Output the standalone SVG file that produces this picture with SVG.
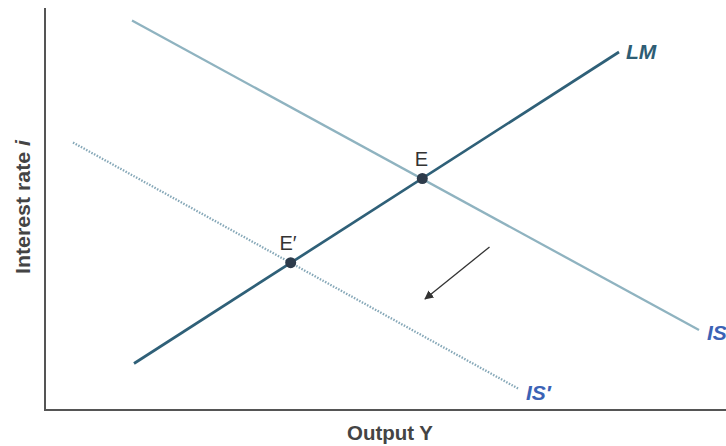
<svg xmlns="http://www.w3.org/2000/svg" width="726" height="446" viewBox="0 0 726 446">
<style>
.axis{stroke:#555;stroke-width:2;fill:none}
.is{stroke:#8fb3c0;stroke-width:2.3;fill:none}
.isp{stroke:#86a8b8;stroke-width:2.3;stroke-dasharray:1.5 1.5;fill:none}
.lm{stroke:#2f6078;stroke-width:2.7;fill:none}
.arrow{stroke:#333;stroke-width:1.3;fill:none}
.lbl{font-family:"Liberation Sans",Arial,sans-serif;font-weight:bold;font-style:italic;font-size:21px}
.pt{font-family:"Liberation Sans",Arial,sans-serif;font-size:20px;fill:#333}
.ax{font-family:"Liberation Sans",Arial,sans-serif;font-weight:bold;font-size:21px;fill:#444}
.dot{fill:#2d3b4b}
</style>
<defs>
<marker id="ah" viewBox="0 0 10 10" refX="9" refY="5" markerWidth="9" markerHeight="9" markerUnits="userSpaceOnUse" orient="auto">
<path d="M0,0 L10,5 L0,10 Z" fill="#333"/>
</marker>
</defs>
<rect width="726" height="446" fill="#ffffff"/>
<g id="axes">
<polyline class="axis" points="45,8 45,410 726,410"/>
<text class="ax" x="390" y="440" text-anchor="middle" textLength="86" lengthAdjust="spacingAndGlyphs">Output Y</text>
<text class="ax" transform="translate(30,207) rotate(-90)" text-anchor="middle" textLength="134" lengthAdjust="spacingAndGlyphs">Interest rate <tspan font-style="italic">i</tspan></text>
</g>
<g id="connectors">
<line id="IS-line" class="is" x1="132" y1="20.5" x2="699" y2="330"/>
<line id="ISp-line" class="isp" x1="73" y1="142.5" x2="518" y2="388.5"/>
<line id="LM-line" class="lm" x1="134" y1="363.5" x2="619" y2="52"/>
<line id="shift-arrow" class="arrow" x1="489.5" y1="247" x2="425" y2="299" marker-end="url(#ah)"/>
</g>
<g id="IS-label"><text class="lbl" x="707" y="340" fill="#3b62b5">IS</text></g>
<g id="ISp-label"><text class="lbl" x="526" y="400" fill="#3b62b5">IS′</text></g>
<g id="LM-label"><text class="lbl" x="626" y="59" fill="#2e5d74">LM</text></g>
<g id="E"><circle class="dot" cx="422.3" cy="178.5" r="5.5"/><text class="pt" x="421.5" y="166" text-anchor="middle">E</text></g>
<g id="Eprime"><circle class="dot" cx="290.7" cy="262.7" r="5.5"/><text class="pt" x="288" y="250" text-anchor="middle">E′</text></g>
</svg>
